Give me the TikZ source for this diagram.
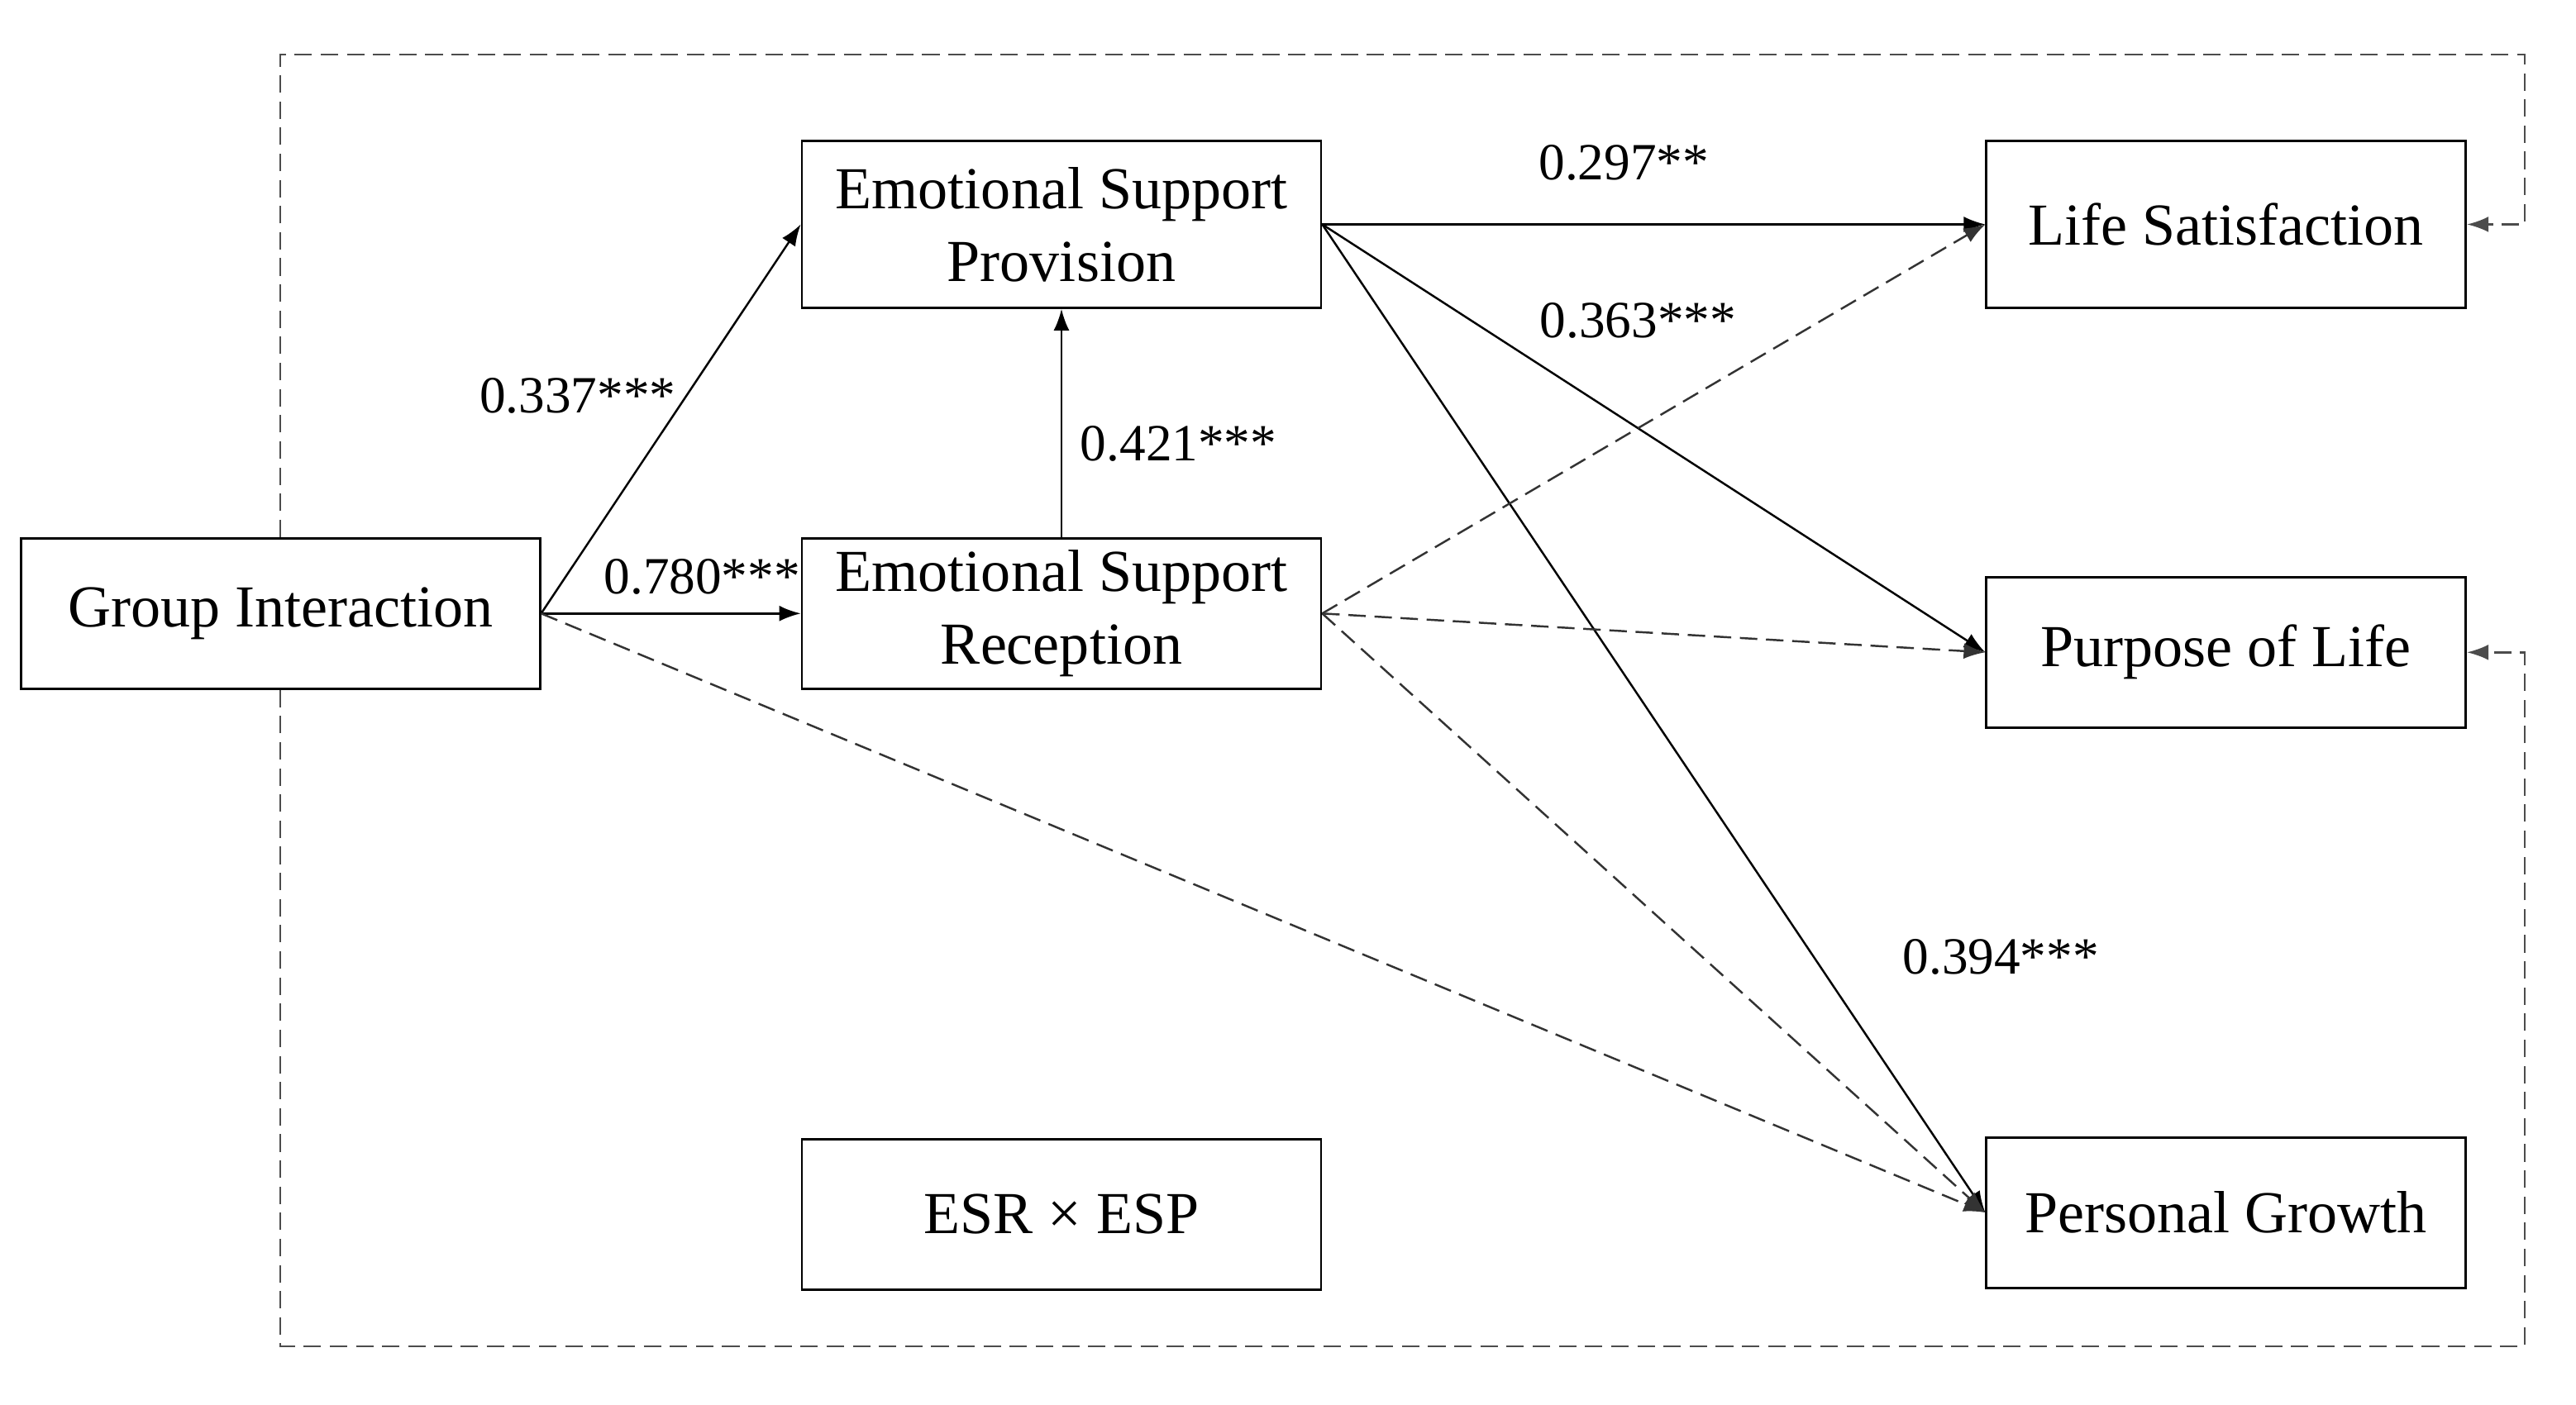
\documentclass[tikz,border=0pt]{standalone}
\usepackage{fontspec}
\setmainfont{Liberation Serif}
\usetikzlibrary{arrows.meta,positioning}

\begin{document}
\begin{tikzpicture}[
    box/.style={draw=black,line width=0.8pt,fill=white,inner sep=2pt,
      align=center,minimum width=6.28cm,minimum height=1.82cm,
      font=\fontsize{20.5}{25}\selectfont},
    tall/.style={minimum height=2.02cm},
    narrow/.style={minimum width=5.8cm},
    arrow/.style={-{Latex[length=2.6mm,width=1.9mm]},draw=black,line width=0.7pt},
    darrow/.style={arrow,draw=black!80,dash pattern=on 6pt off 3pt},
    frame/.style={darrow,draw=black!70},
    coef/.style={font=\fontsize{18}{22}\selectfont}
  ]
    \useasboundingbox (0,0) rectangle (31.16,17);
    \node[box,tall] (esp) at (12.84,14.285) {Emotional Support\\Provision};
    \node[box,below=2.76cm of esp] (esr) {Emotional Support\\Reception};
    \node[box,left=3.14cm of esr] (gi) {Group Interaction};
    \node[box,below=5.42cm of esr] (int) {ESR × ESP};
    \node[box,tall,narrow,right=8.02cm of esp] (ls) {Life Satisfaction};
    \node[box,narrow,below=3.23cm of ls] (pl) {Purpose of Life};
    \node[box,narrow,below=4.93cm of pl] (pg) {Personal Growth};
    \coordinate (tr) at (30.54,16.34);
    \coordinate (br) at (30.54,0.71);
    % outer frame
    \draw[frame] (gi.north) |- (tr) |- (ls.east);
    \draw[frame] (gi.south) |- (br) |- (pl.east);
    % significant paths
    \draw[arrow] (gi.east) -- node[coef,pos=0.56,left] (c1) {0.337***} (esp.west);
    \draw[arrow] (gi.east) -- node[coef,pos=0.62,above=1mm] (c2) {0.780***} (esr.west);
    \draw[arrow] (esr.north) -- node[coef,pos=0.41,right=1mm] (c3) {0.421***} (esp.south);
    \draw[arrow] (esp.east) -- node[coef,pos=0.455,above=4mm] (c4) {0.297**} (ls.west);
    \draw[arrow] (esp.east) -- node[coef,pos=0.225,right=7mm] (c5) {0.363***} (pl.west);
    \draw[arrow] (esp.east) -- node[coef,pos=0.741,right=9.5mm] (c6) {0.394***} (pg.west);
    % non-significant paths
    \draw[darrow] (esr.east) -- (ls.west);
    \draw[darrow] (esr.east) -- (pl.west);
    \draw[darrow] (esr.east) -- (pg.west);
    \draw[darrow] (gi.east) -- (pg.west);
\end{tikzpicture}
\end{document}
